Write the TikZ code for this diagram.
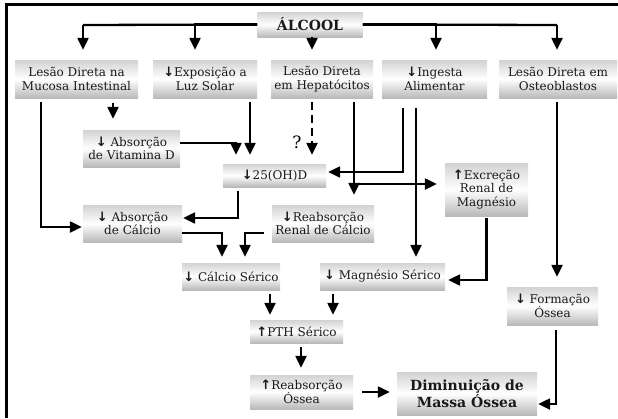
\documentclass[tikz,border=0pt]{standalone}
\usepackage{fontspec}
\setmainfont{DejaVu Serif}
\newfontfamily\arrowfont{DejaVu Sans}
\usetikzlibrary{arrows.meta,calc}
\newcommand\dn{{\arrowfont\bfseries\fontsize{13}{13}\selectfont ↓}}
\newcommand\up{{\arrowfont\bfseries\fontsize{13}{13}\selectfont ↑}}
\tikzset{
  bx/.style={inner sep=0pt, align=center, top color=gray!35, bottom color=gray!55, middle color=white,
             font=\fontsize{12}{13.5}\selectfont, text=black!90},
  arr/.style={line width=2.3pt, -{Triangle[width=11pt,length=12pt]}},
}
\begin{document}
\begin{tikzpicture}[x=1pt,y=-1pt]
\useasboundingbox (0,0) rectangle (618,418);
\fill[white] (0,0) rectangle (618,418);
\draw[line width=2.5pt] (6.5,418) -- (6.5,4.5) -- (618,4.5);

\coordinate (alcl) at (83,25);
\coordinate (alcr) at (557,25);

% boxes
\node[bx, minimum width=105pt, minimum height=25pt, font=\fontsize{14}{16}\selectfont\bfseries] (alc) at (310,24.5) {ÁLCOOL};
\node[bx, minimum width=123pt, minimum height=38pt] (mucosa) at (76.5,79) {Lesão Direta na\\Mucosa Intestinal};
\node[bx, minimum width=104pt, minimum height=38pt] (expo) at (205,79) {\dn Exposição a\\Luz Solar};
\node[bx, minimum width=102pt, minimum height=38pt] (hepa) at (322,79) {Lesão Direta\\em Hepatócitos};
\node[bx, minimum width=105pt, minimum height=38pt] (ing) at (434.5,79) {\dn Ingesta\\Alimentar};
\node[bx, minimum width=118pt, minimum height=38pt] (osteo) at (558,79) {Lesão Direta em\\Osteoblastos};
\node[bx, minimum width=97pt, minimum height=37pt] (absvit) at (131.5,148.5) {\dn\ Absorção\\de Vitamina D};
\node[bx, minimum width=103pt, minimum height=23pt] (ohd) at (274.5,175.5) {\dn 25(OH)D};
\node[bx, minimum width=83pt, minimum height=53pt] (excr) at (486.5,189.5) {\up Excreção\\Renal de\\Magnésio};
\node[bx, minimum width=99pt, minimum height=37pt] (abscal) at (132.5,223.5) {\dn\ Absorção\\de Cálcio};
\node[bx, minimum width=102pt, minimum height=37pt] (reabren) at (323,223.5) {\dn Reabsorção\\Renal de Cálcio};
\node[bx, minimum width=98pt, minimum height=27pt] (calser) at (231,276.5) {\dn\ Cálcio Sérico};
\node[bx, minimum width=125pt, minimum height=27pt] (magser) at (382.5,276.5) {\dn\ Magnésio Sérico};
\node[bx, minimum width=91pt, minimum height=38pt] (form) at (552.5,306) {\dn\ Formação\\Óssea};
\node[bx, minimum width=93pt, minimum height=23pt] (pth) at (296.5,331.5) {\up PTH Sérico};
\node[bx, minimum width=103pt, minimum height=34pt] (reabos) at (301.5,392) {\up Reabsorção\\Óssea};
\node[bx, minimum width=140pt, minimum height=43pt, font=\fontsize{14}{15.5}\selectfont\bfseries] (dim) at (467,393.5) {Diminuição de\\Massa Óssea};
\node[font=\fontsize{17}{18}\selectfont, inner sep=0pt] (q) at (297,142) {?};

% ALCOOL arrows
\draw[line width=2.3pt] (alc.west) -- (alcl);
\draw[line width=2.3pt] (alc.east) -- (alcr);
\draw[arr, shorten >=10pt] (alcl) -- ([xshift=6.5pt]mucosa.north);
\draw[arr, shorten >=10pt] (alc.west) -| ([xshift=-10pt]expo.north);
\draw[arr, shorten >=10pt] ([xshift=2pt]alc.south) -- ([xshift=-10pt]hepa.north);
\draw[arr, shorten >=10pt] (alc.east) -| ([xshift=1.5pt]ing.north);
\draw[arr, shorten >=10pt] (alcr) -- ([xshift=-1pt]osteo.north);

% level 1 -> 2
\draw[arr, shorten <=5pt, shorten >=11pt] ([xshift=36.5pt]mucosa.south) -- ([xshift=-18.5pt]absvit.north);
\draw[arr, shorten <=4pt, shorten >=1pt] ([xshift=-35.5pt]mucosa.south) |- ([yshift=-3.5pt]abscal.west);
\draw[arr, shorten <=4pt, shorten >=9pt] ([xshift=45pt]expo.south) -- ([xshift=-24.5pt]ohd.north);
\draw[arr, shorten >=9pt] ([yshift=5.5pt]absvit.east) -| ([xshift=-38.5pt]ohd.north);
\draw[arr, dash pattern=on 8pt off 5pt, shorten <=4pt, shorten >=9pt] ([xshift=-10pt]hepa.south) -- ([xshift=37.5pt]ohd.north);
\draw[arr, shorten <=4pt, shorten >=10pt] ([xshift=32pt]hepa.south) -- ([xshift=31pt]reabren.north);
\draw[arr, shorten <=4pt, shorten >=8pt] ([xshift=32pt]hepa.south) |- ([yshift=5.5pt]excr.west);
\draw[arr, shorten <=10pt, shorten >=2pt] ([xshift=-31.5pt]ing.south) |- ([yshift=3.5pt]ohd.east);
\draw[arr, shorten <=10pt, shorten >=6pt] ([xshift=-18.5pt]ing.south) -- ([xshift=33.5pt]magser.north);
\draw[arr, shorten <=4pt, shorten >=10pt] ([xshift=-1pt]osteo.south) -- ([xshift=4.5pt]form.north);

% middle
\draw[arr, shorten <=4pt, shorten >=1pt] ([xshift=-36.5pt]ohd.south) |- ([yshift=5.5pt]abscal.east);
\draw[arr, shorten >=6pt] ([yshift=-9.5pt]abscal.east) -| ([xshift=-9pt]calser.north);
\draw[arr, shorten <=8pt, shorten >=6pt] ([yshift=-9.5pt]reabren.west) -| ([xshift=14pt]calser.north);
\draw[arr, shorten <=2pt, shorten >=3pt] (excr.south) |- ([yshift=-3.5pt]magser.east);

% lower
\draw[arr, shorten <=4pt, shorten >=5pt] ([xshift=39pt]calser.south) -- ([xshift=-26.5pt]pth.north);
\draw[arr, shorten <=4pt, shorten >=5pt] ([xshift=-49.5pt]magser.south) -- ([xshift=36.5pt]pth.north);
\draw[arr, shorten <=4pt, shorten >=7pt] ([xshift=4.5pt]pth.south) -- ([xshift=-0.5pt]reabos.north);
\draw[arr, shorten <=9pt, shorten >=7pt] (reabos.east) -- (reabos.east -| dim.west);
\draw[arr, shorten <=5pt, shorten >=1pt] ([xshift=3.5pt]form.south) |- ([yshift=-10.5pt]dim.east);
\end{tikzpicture}
\end{document}
